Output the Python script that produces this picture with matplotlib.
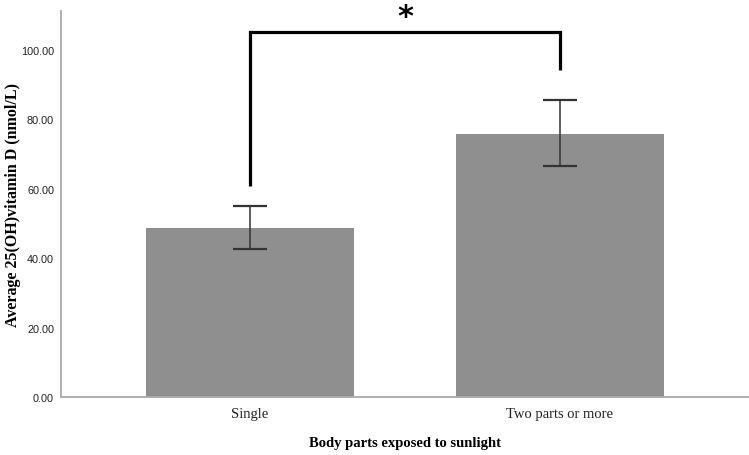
import matplotlib.pyplot as plt
import numpy as np

# Data
groups = ["Single", "Two parts or more"]
means = [48.7, 75.8]
ci_low = [42.6, 66.6]
ci_high = [55.0, 85.6]
yticks = [0, 20, 40, 60, 80, 100]

# significance bracket (y values at left end, top, right end)
bracket_y = [60.8, 105.2, 105.2, 94.2]

fig = plt.figure(figsize=(7.49, 4.56), dpi=100)
ax = fig.add_axes([61 / 749, 1 - 398 / 456, 1 - 61 / 749, (398 - 12) / 456])

x = np.arange(len(groups))
yerr = [np.array(means) - np.array(ci_low), np.array(ci_high) - np.array(means)]
ax.bar(x, means, width=0.67, color="#8f8f8f", zorder=2)
ax.errorbar(x, means, yerr=yerr, fmt="none", ecolor="#333333",
            elinewidth=1.1, capsize=12, capthick=1.6, zorder=3)

# bracket + asterisk
ax.plot([x[0], x[0], x[1], x[1]], bracket_y, color="black", lw=2.3,
        solid_joinstyle="miter", solid_capstyle="butt", clip_on=False, zorder=4)
ax.text((x[0] + x[1]) / 2, 107.3, "*", ha="center", va="baseline",
        fontsize=22, fontweight="bold", color="black", clip_on=False)

ax.set_xlim(-0.61, 1.61)
ax.set_ylim(0, 111.2)
ax.set_yticks(yticks)
ax.set_yticklabels([f"{v:.2f}" for v in yticks],
                   family=["Liberation Sans Narrow", "Liberation Sans"],
                   fontsize=7.8, color="#222222")
ax.set_xticks(x)
ax.set_xticklabels(groups, family="Liberation Serif", fontsize=10.5, color="#222222")
ax.tick_params(axis="both", length=0)
ax.tick_params(axis="y", pad=5)
ax.tick_params(axis="x", pad=7)

for s in ["top", "right"]:
    ax.spines[s].set_visible(False)
for s in ["left", "bottom"]:
    ax.spines[s].set_color("#aaaaaa")
    ax.spines[s].set_linewidth(1.3)

ax.set_xlabel("Body parts exposed to sunlight", family="Liberation Serif",
              fontweight="bold", fontsize=10.5, labelpad=12)
ax.set_ylabel("Average 25(OH)vitamin D (nmol/L)", family="Liberation Serif",
              fontweight="bold", fontsize=11.5)
ax.yaxis.set_label_coords(-0.058, 0.5)

fig.savefig("out.png", dpi=100)
